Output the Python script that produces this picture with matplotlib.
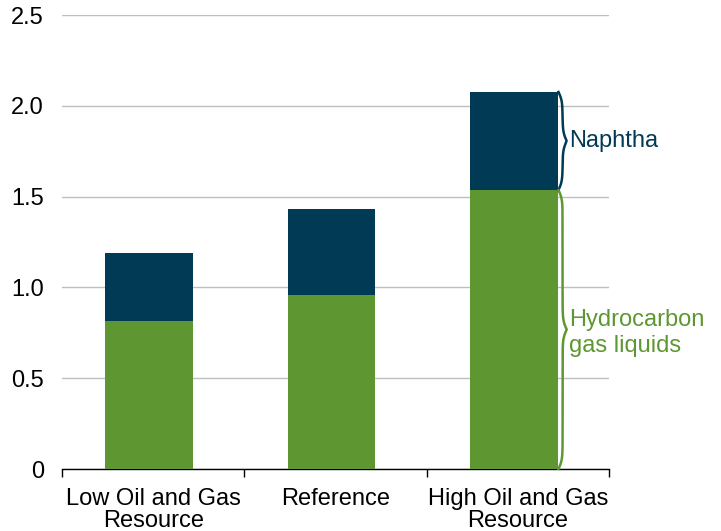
import numpy as np
import matplotlib
matplotlib.use("Agg")
import matplotlib.pyplot as plt

categories = ["Low Oil and Gas\nResource", "Reference", "High Oil and Gas\nResource"]
hgl = [0.815, 0.958, 1.536]
naphtha = [0.375, 0.472, 0.540]
yticks = [0, 0.5, 1.0, 1.5, 2.0, 2.5]
ytick_labels = ["0", "0.5", "1.0", "1.5", "2.0", "2.5"]

GREEN = "#5E9732"
NAVY = "#003A54"
FS = 17

plt.rcParams['font.family'] = ['Liberation Sans', 'DejaVu Sans']

fig = plt.figure(figsize=(7.21, 5.31), dpi=100)
ax = fig.add_axes([62/721, 1-469/531, (609-62)/721, (469-15)/531])

x = np.arange(len(categories))
w = 0.48
off = -0.022
ax.bar(x + off, hgl, w, color=GREEN, zorder=3)
ax.bar(x + off, naphtha, w, bottom=hgl, color=NAVY, zorder=3)

ax.set_xlim(-0.5, len(categories) - 0.5)
ax.set_ylim(0, 2.5)
ax.set_yticks(yticks)
ax.set_yticklabels(ytick_labels, fontsize=FS)
ax.yaxis.grid(True, color="#BFBFBF", linewidth=1.0, zorder=0)
ax.tick_params(axis='y', length=0, pad=13)
ax.set_xticks(x)
ax.set_xticklabels(categories, fontsize=FS, linespacing=1.0)
ax.tick_params(axis='x', which='major', length=0, pad=14)
ax.set_xticks(np.arange(len(categories) + 1) - 0.5, minor=True)
ax.tick_params(axis='x', which='minor', length=6, width=1, direction='out', color='black')
for s in ['left', 'right', 'top']:
    ax.spines[s].set_visible(False)
ax.spines['bottom'].set_color('black')
ax.spines['bottom'].set_linewidth(1.0)


def draw_brace(ax, y0, y1, xx, width, color, beta=40.0):
    n = 401
    y = np.linspace(y0, y1, n)
    yh = y[: n // 2 + 1]
    xh = 1 / (1 + np.exp(-beta * (yh - yh[0]))) + 1 / (1 + np.exp(-beta * (yh - yh[-1])))
    xs = np.concatenate((xh, xh[-2::-1]))
    xs = xx + (xs - 0.5) * width
    ax.plot(xs, y, color=color, lw=1.8, clip_on=False, zorder=4)


last = len(categories) - 1
bx = last + off + w / 2 + 0.005
bw = 0.045
total = hgl[last] + naphtha[last]
draw_brace(ax, hgl[last], total, bx, bw, NAVY)
draw_brace(ax, 0, hgl[last], bx, bw, GREEN)
ax.text(bx + bw + 0.015, (hgl[last] + total) / 2, "Naphtha", color=NAVY,
        fontsize=FS, va='center', ha='left')
ax.text(bx + bw + 0.015, hgl[last] / 2 - 0.02, "Hydrocarbon\ngas liquids", color=GREEN,
        fontsize=FS, va='center', ha='left', linespacing=1.2)

fig.savefig("out.png", dpi=100)
